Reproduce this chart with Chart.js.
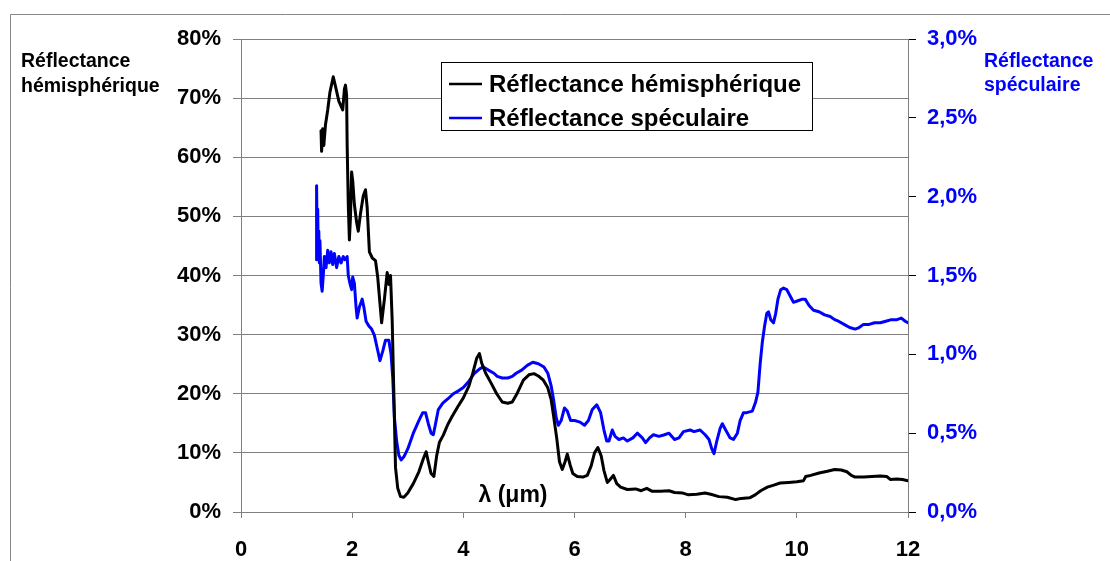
<!DOCTYPE html>
<html>
<head>
<meta charset="utf-8">
<script src="https://cdn.jsdelivr.net/npm/chart.js@4/dist/chart.umd.min.js"></script>
<style>
  html, body { margin: 0; padding: 0; background: #fff; }
  canvas { display: block; }
</style>
</head>
<body>
<canvas id="chart" width="1110" height="561"></canvas>
<script>
// Hemispherical reflectance (left axis, %) versus wavelength (µm)
const hemiWavelength = [
  1.44, 1.45, 1.47, 1.49, 1.52, 1.56, 1.60, 1.66, 1.70, 1.76, 1.83, 1.86, 1.88, 1.90, 1.91, 1.93, 1.95, 1.97, 1.99, 2.01,
  2.04, 2.08, 2.11, 2.15, 2.20, 2.24, 2.27, 2.31, 2.36, 2.42, 2.46, 2.53, 2.58, 2.63, 2.66, 2.69, 2.72, 2.75, 2.78, 2.82,
  2.87, 2.93, 3.00, 3.10, 3.20, 3.28, 3.33, 3.37, 3.42, 3.47, 3.52, 3.57, 3.64, 3.72, 3.80, 3.90, 4.00, 4.10, 4.17, 4.24,
  4.29, 4.33, 4.40, 4.50, 4.60, 4.70, 4.80, 4.88, 4.97, 5.08, 5.18, 5.27, 5.35, 5.44, 5.52, 5.58, 5.62, 5.68, 5.73, 5.78,
  5.83, 5.87, 5.92, 5.97, 6.05, 6.15, 6.23, 6.30, 6.36, 6.42, 6.48, 6.53, 6.59, 6.64, 6.70, 6.76, 6.83, 6.95, 7.10, 7.20,
  7.30, 7.40, 7.55, 7.70, 7.80, 7.95, 8.05, 8.20, 8.35, 8.45, 8.60, 8.75, 8.90, 9.00, 9.15, 9.25, 9.35, 9.47, 9.60, 9.70,
  9.85, 10.00, 10.12, 10.16, 10.25, 10.40, 10.55, 10.68, 10.80, 10.90, 10.98, 11.05, 11.20, 11.35, 11.50, 11.62, 11.68, 11.80, 11.90, 12.00
];
const hemiReflectance = [
  64.5, 61.0, 64.8, 62.0, 65.5, 68.0, 71.0, 73.6, 72.0, 69.5, 68.0, 71.5, 72.2, 70.5, 62.0, 52.0, 46.0, 50.0, 57.5, 56.0,
  52.0, 49.0, 47.5, 50.5, 53.5, 54.5, 51.5, 44.0, 43.0, 42.5, 39.7, 32.0, 36.0, 40.5, 38.5, 40.0, 32.4, 20.0, 7.5, 4.0,
  2.6, 2.5, 3.2, 4.8, 6.8, 9.0, 10.2, 8.5, 6.5, 6.0, 9.5, 11.8, 13.0, 14.8, 16.2, 17.8, 19.3, 21.3, 23.5, 26.0,
  26.8, 25.2, 23.5, 21.8, 20.0, 18.6, 18.4, 18.6, 20.1, 22.3, 23.2, 23.4, 23.0, 22.3, 21.0, 19.0, 16.5, 12.5, 8.5, 7.2,
  8.5, 9.8, 8.0, 6.5, 6.0, 5.9, 6.2, 7.8, 10.0, 10.9, 9.5, 7.0, 5.0, 5.5, 6.2, 4.8, 4.2, 3.8, 3.9, 3.6,
  4.0, 3.5, 3.5, 3.6, 3.3, 3.2, 2.9, 3.0, 3.2, 3.0, 2.6, 2.5, 2.1, 2.3, 2.4, 2.9, 3.6, 4.2, 4.6, 4.9,
  5.0, 5.1, 5.3, 6.0, 6.2, 6.6, 6.9, 7.2, 7.1, 6.8, 6.2, 5.9, 5.9, 6.0, 6.1, 6.0, 5.5, 5.6, 5.5, 5.3
];

// Specular reflectance (right axis, %) versus wavelength (µm)
const specWavelength = [
  1.36, 1.36, 1.37, 1.38, 1.39, 1.40, 1.41, 1.42, 1.44, 1.46, 1.48, 1.50, 1.53, 1.56, 1.59, 1.62, 1.65, 1.68, 1.72, 1.76,
  1.80, 1.84, 1.87, 1.91, 1.93, 1.96, 1.99, 2.01, 2.04, 2.07, 2.09, 2.13, 2.18, 2.21, 2.25, 2.30, 2.35, 2.40, 2.45, 2.50,
  2.55, 2.60, 2.66, 2.70, 2.73, 2.76, 2.80, 2.84, 2.88, 2.93, 3.00, 3.10, 3.20, 3.27, 3.32, 3.37, 3.42, 3.46, 3.50, 3.55,
  3.63, 3.73, 3.82, 3.92, 4.00, 4.10, 4.20, 4.30, 4.36, 4.45, 4.55, 4.61, 4.70, 4.80, 4.88, 4.95, 5.05, 5.15, 5.25, 5.35,
  5.45, 5.52, 5.58, 5.62, 5.67, 5.71, 5.76, 5.82, 5.87, 5.93, 6.00, 6.10, 6.18, 6.25, 6.32, 6.40, 6.47, 6.53, 6.58, 6.62,
  6.68, 6.73, 6.80, 6.88, 6.95, 7.05, 7.13, 7.22, 7.28, 7.35, 7.42, 7.52, 7.62, 7.70, 7.80, 7.88, 7.96, 8.08, 8.15, 8.26,
  8.35, 8.42, 8.47, 8.51, 8.56, 8.62, 8.66, 8.72, 8.80, 8.86, 8.93, 8.98, 9.04, 9.10, 9.20, 9.26, 9.30, 9.34, 9.38, 9.42,
  9.46, 9.49, 9.53, 9.58, 9.62, 9.66, 9.71, 9.76, 9.82, 9.88, 9.94, 10.02, 10.10, 10.15, 10.22, 10.30, 10.40, 10.50, 10.60, 10.68,
  10.75, 10.85, 10.95, 11.05, 11.12, 11.20, 11.30, 11.40, 11.50, 11.60, 11.70, 11.80, 11.88, 11.95, 12.00
];
const specReflectance = [
  1.60, 2.07, 1.70, 1.92, 1.62, 1.78, 1.58, 1.72, 1.45, 1.40, 1.50, 1.62, 1.55, 1.66, 1.58, 1.65, 1.57, 1.64, 1.55, 1.62,
  1.58, 1.62, 1.60, 1.62, 1.50, 1.45, 1.41, 1.49, 1.45, 1.30, 1.23, 1.30, 1.35, 1.30, 1.21, 1.18, 1.16, 1.12, 1.04, 0.96,
  1.02, 1.09, 1.09, 1.00, 0.85, 0.60, 0.45, 0.36, 0.33, 0.35, 0.40, 0.50, 0.58, 0.63, 0.63, 0.56, 0.50, 0.49, 0.56, 0.65,
  0.69, 0.72, 0.75, 0.77, 0.79, 0.83, 0.88, 0.91, 0.92, 0.90, 0.88, 0.86, 0.85, 0.85, 0.86, 0.88, 0.90, 0.93, 0.95, 0.94,
  0.92, 0.88, 0.80, 0.72, 0.60, 0.55, 0.58, 0.66, 0.64, 0.58, 0.58, 0.57, 0.55, 0.58, 0.65, 0.68, 0.63, 0.52, 0.45, 0.45,
  0.52, 0.48, 0.46, 0.47, 0.45, 0.47, 0.50, 0.47, 0.44, 0.47, 0.49, 0.48, 0.49, 0.50, 0.46, 0.47, 0.51, 0.52, 0.51, 0.52,
  0.49, 0.46, 0.40, 0.37, 0.45, 0.53, 0.56, 0.52, 0.47, 0.46, 0.50, 0.58, 0.63, 0.63, 0.64, 0.70, 0.76, 0.94, 1.08, 1.18,
  1.26, 1.27, 1.22, 1.20, 1.26, 1.35, 1.41, 1.42, 1.41, 1.37, 1.33, 1.34, 1.35, 1.35, 1.31, 1.28, 1.27, 1.25, 1.24, 1.22,
  1.21, 1.19, 1.17, 1.16, 1.17, 1.19, 1.19, 1.20, 1.20, 1.21, 1.22, 1.22, 1.23, 1.21, 1.20
];

// Axis ranges and steps
const wavelengthRange = [0, 12];
const wavelengthStep = 2;
const hemiRange = [0, 80];
const hemiStep = 10;
const specRange = [0, 3];
const specStep = 0.5;

const seriesLabels = ['Réflectance hémisphérique', 'Réflectance spéculaire'];
const seriesColors = ['#000000', '#0000ff'];

const FONT = "'Liberation Sans', Arial, Helvetica, sans-serif";
const AXIS_GREY = '#808080';

Chart.defaults.font.family = FONT;

const toPoints = (xs, ys) => xs.map((x, i) => ({ x: x, y: ys[i] }));

// Outer frame, axis titles, wavelength label and boxed legend
const decorations = {
  id: 'decorations',
  beforeDraw(chart) {
    const ctx = chart.ctx;
    ctx.save();
    ctx.fillStyle = '#ffffff';
    ctx.fillRect(0, 0, chart.width, chart.height);
    ctx.strokeStyle = '#888888';
    ctx.lineWidth = 1;
    ctx.beginPath();
    ctx.moveTo(10.5, chart.height);
    ctx.lineTo(10.5, 14.5);
    ctx.lineTo(chart.width, 14.5);
    ctx.stroke();
    ctx.restore();
  },
  afterDraw(chart) {
    const ctx = chart.ctx;
    ctx.save();
    // axis titles
    ctx.font = 'bold 19.5px ' + FONT;
    ctx.textAlign = 'left';
    ctx.textBaseline = 'alphabetic';
    ctx.fillStyle = '#000000';
    ctx.fillText('Réflectance', 21, 67);
    ctx.fillText('hémisphérique', 21, 92);
    ctx.fillStyle = '#0000ff';
    ctx.fillText('Réflectance', 984, 67);
    ctx.fillText('spéculaire', 984, 91);

    // wavelength label inside the plot
    ctx.fillStyle = '#000000';
    ctx.font = 'bold 23px ' + FONT;
    ctx.textAlign = 'center';
    ctx.textBaseline = 'middle';
    ctx.fillText('λ (μm)', 513, 496);

    // legend box
    const bx = 441, by = 62, bw = 371, bh = 68;
    ctx.fillStyle = '#ffffff';
    ctx.fillRect(bx, by, bw, bh);
    ctx.strokeStyle = '#000000';
    ctx.lineWidth = 1;
    ctx.strokeRect(bx + 0.5, by + 0.5, bw, bh);
    ctx.font = 'bold 24px ' + FONT;
    ctx.textAlign = 'left';
    ctx.textBaseline = 'middle';
    const rows = [84, 118];
    chart.data.datasets.forEach((ds, i) => {
      ctx.strokeStyle = ds.borderColor;
      ctx.lineWidth = 2.5;
      ctx.beginPath();
      ctx.moveTo(449, rows[i]);
      ctx.lineTo(482, rows[i]);
      ctx.stroke();
      ctx.fillStyle = '#000000';
      ctx.fillText(ds.label, 489, rows[i] + 1);
    });
    ctx.restore();
  }
};

new Chart(document.getElementById('chart'), {
  type: 'line',
  data: {
    datasets: [
      {
        label: seriesLabels[0],
        data: toPoints(hemiWavelength, hemiReflectance),
        borderColor: seriesColors[0],
        borderWidth: 3,
        pointRadius: 0,
        tension: 0,
        fill: false,
        borderJoinStyle: 'round',
        borderCapStyle: 'round',
        yAxisID: 'y'
      },
      {
        label: seriesLabels[1],
        data: toPoints(specWavelength, specReflectance),
        borderColor: seriesColors[1],
        borderWidth: 3,
        pointRadius: 0,
        tension: 0,
        fill: false,
        borderJoinStyle: 'round',
        borderCapStyle: 'round',
        yAxisID: 'y2'
      }
    ]
  },
  options: {
    responsive: false,
    animation: false,
    devicePixelRatio: 1,
    events: [],
    layout: { padding: { top: 39, left: 0, right: 0, bottom: 0 } },
    plugins: {
      legend: { display: false },
      tooltip: { enabled: false },
      title: { display: false }
    },
    scales: {
      x: {
        type: 'linear',
        position: 'bottom',
        min: wavelengthRange[0],
        max: wavelengthRange[1],
        afterFit(scale) { scale.height = 49; },
        ticks: {
          stepSize: wavelengthStep,
          color: '#000000',
          font: { size: 22, weight: 'bold' },
          padding: 19,
          maxRotation: 0,
          callback: v => String(v)
        },
        grid: {
          drawOnChartArea: false,
          drawTicks: true,
          tickLength: 6,
          color: AXIS_GREY,
          tickColor: AXIS_GREY
        },
        border: { display: true, color: AXIS_GREY, width: 1 }
      },
      y: {
        type: 'linear',
        position: 'left',
        min: hemiRange[0],
        max: hemiRange[1],
        afterFit(scale) { scale.width = 241; },
        ticks: {
          stepSize: hemiStep,
          color: '#000000',
          font: { size: 22, weight: 'bold' },
          padding: 12,
          callback: v => v + '%'
        },
        grid: {
          drawOnChartArea: true,
          drawTicks: true,
          tickLength: 8,
          color: AXIS_GREY,
          tickColor: AXIS_GREY
        },
        border: { display: true, color: AXIS_GREY, width: 1 }
      },
      y2: {
        type: 'linear',
        position: 'right',
        min: specRange[0],
        max: specRange[1],
        afterFit(scale) { scale.width = 202; },
        ticks: {
          stepSize: specStep,
          color: '#0000ff',
          font: { size: 22, weight: 'bold' },
          padding: 11,
          callback: v => v.toFixed(1).replace('.', ',') + '%'
        },
        grid: {
          drawOnChartArea: false,
          drawTicks: true,
          tickLength: 8,
          color: '#000000',
          tickColor: '#000000'
        },
        border: { display: true, color: AXIS_GREY, width: 1 }
      }
    }
  },
  plugins: [decorations]
});
</script>
</body>
</html>
